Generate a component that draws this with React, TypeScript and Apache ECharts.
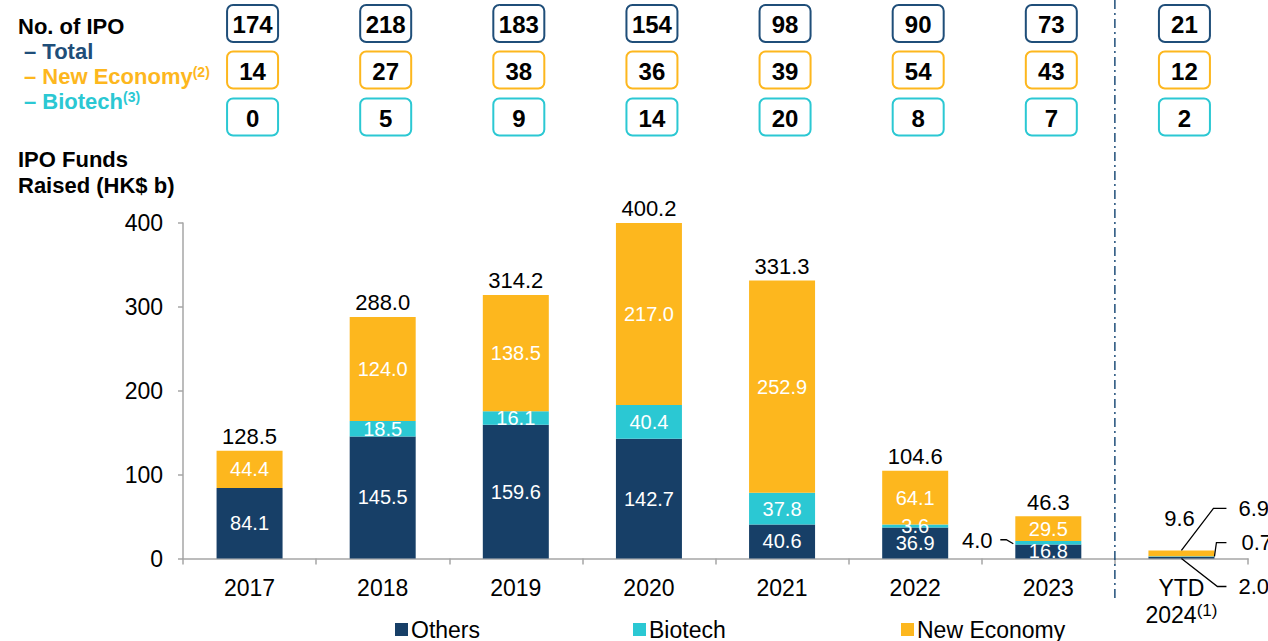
import React, { useEffect, useRef } from 'react';
import * as echarts from 'echarts';

const categories = ['2017', '2018', '2019', '2020', '2021', '2022', '2023', 'YTD 2024'];
const others = [84.1, 145.5, 159.6, 142.7, 40.6, 36.9, 16.8, 2.0];
const biotech = [0, 18.5, 16.1, 40.4, 37.8, 3.6, 4.0, 0.7];
const newEconomy = [44.4, 124.0, 138.5, 217.0, 252.9, 64.1, 29.5, 6.9];
const totalLabels = ['128.5', '288.0', '314.2', '400.2', '331.3', '104.6', '46.3', '9.6'];
const ipoTotal = [174, 218, 183, 154, 98, 90, 73, 21];
const ipoNewEconomy = [14, 27, 38, 36, 39, 54, 43, 12];
const ipoBiotech = [0, 5, 9, 14, 20, 8, 7, 2];
const yMin = 0;
const yMax = 400;
const yStep = 100;

const C_OTHERS = '#173F67';
const C_BIO = '#2BC8D3';
const C_NE = '#FDB71E';
const C_TOTAL = '#1F4E79';
const FONT = 'Arial, "Liberation Sans", Helvetica, sans-serif';
const AXIS_GRAY = '#A6A6A6';

const fmt = (v: number) => v.toFixed(1);

export default function App() {
  const ref = useRef<HTMLDivElement>(null);

  useEffect(() => {
    document.body.style.margin = '0';
    if (!ref.current) return;
    const chart = echarts.init(ref.current, null, { renderer: 'svg' });

    const innerLabel = {
      show: true,
      position: 'inside',
      color: '#fff',
      fontSize: 20,
      fontFamily: FONT,
      formatter: (p: any) => fmt(p.value),
    };

    const hide = (arr: number[], hidden: number[]) =>
      arr.map((v, i) => (hidden.includes(i) ? { value: v, label: { show: false } } : v));

    const rows = [
      { y: 23.5, data: ipoTotal, color: C_TOTAL },
      { y: 70, data: ipoNewEconomy, color: C_NE },
      { y: 117, data: ipoBiotech, color: C_BIO },
    ];

    const textEl = (text: string, x: number, y: number, extra: any = {}) => ({
      type: 'text',
      style: {
        text,
        x,
        y,
        fill: '#000',
        fontSize: 22,
        fontFamily: FONT,
        align: 'center',
        verticalAlign: 'middle',
        ...extra,
      },
    });

    const renderItem = (params: any, api: any) => {
      const i = api.value(0);
      const [cx, base] = api.coord([i, 0]);
      const band = api.size([1, 0])[0];
      const sum = others[i] + biotech[i] + newEconomy[i];
      const top = api.coord([i, sum])[1];
      const children: any[] = [];

      rows.forEach((r) => {
        children.push({
          type: 'rect',
          shape: { x: cx - 22.5, y: r.y - 18.5, width: 51, height: 37, r: 6 },
          style: { fill: '#fff', stroke: r.color, lineWidth: 2 },
        });
        children.push(
          textEl(String(r.data[i]), cx + 3, r.y + 1, { fontWeight: 'bold', fontSize: 24 })
        );
      });

      const lineStyle = { stroke: '#000', lineWidth: 1.3, fill: null };

      if (i === categories.length - 1) {
        const sx = cx - band / 2;
        children.push({
          type: 'line',
          shape: { x1: sx, y1: 0, x2: sx, y2: 602 },
          style: { stroke: C_TOTAL, lineWidth: 1.5, lineDash: [9, 4, 2, 4] },
        });
        children.push(textEl(totalLabels[i], cx - 2, top - 32));
        const yNE = top - 42;
        children.push({
          type: 'polyline',
          shape: { points: [[cx, top], [cx + 32, yNE], [cx + 45, yNE]] },
          style: lineStyle,
        });
        children.push(textEl(fmt(newEconomy[i]), cx + 57, yNE, { align: 'left' }));
        const yBio = api.coord([i, others[i] + biotech[i] / 2])[1];
        const yBioLbl = yBio - 14;
        children.push({
          type: 'polyline',
          shape: { points: [[cx + 33, yBio], [cx + 35, yBioLbl], [cx + 45, yBioLbl]] },
          style: lineStyle,
        });
        children.push(textEl(fmt(biotech[i]), cx + 60, yBioLbl, { align: 'left' }));
        const yOth = base + 28;
        children.push({
          type: 'polyline',
          shape: { points: [[cx, base], [cx + 36, yOth], [cx + 45, yOth]] },
          style: lineStyle,
        });
        children.push(textEl(fmt(others[i]), cx + 57, yOth, { align: 'left' }));
      } else {
        children.push(textEl(totalLabels[i], cx, top - 14));
      }

      if (i === 6) {
        const yB = api.coord([i, others[i] + biotech[i] / 2])[1];
        children.push(textEl(fmt(biotech[i]), cx - 71, yB - 2));
        children.push({
          type: 'polyline',
          shape: { points: [[cx - 48, yB - 3], [cx - 42, yB - 3], [cx - 35, yB + 1]] },
          style: lineStyle,
        });
      }

      return { type: 'group', children };
    };

    const legendBase = {
      top: 618,
      itemWidth: 13,
      itemHeight: 13,
      itemGap: 0,
      padding: 0,
      icon: 'rect',
      selectedMode: false,
      textStyle: { fontSize: 23, color: '#000', fontFamily: FONT, padding: [0, 0, 0, -2] },
    };

    const headFont = `bold 22px ${FONT}`;

    const option: any = {
      animation: false,
      textStyle: { fontFamily: FONT },
      grid: { left: 183, right: 20, top: 223, bottom: 82.5, containLabel: false },
      legend: [
        { ...legendBase, left: 395, data: ['Others'] },
        { ...legendBase, left: 633, data: ['Biotech'] },
        { ...legendBase, left: 901, data: ['New Economy'] },
      ],
      xAxis: {
        type: 'category',
        data: categories,
        axisLine: { lineStyle: { color: AXIS_GRAY, width: 1.5 } },
        axisTick: { show: true, length: 6, lineStyle: { color: AXIS_GRAY, width: 1.5 } },
        axisLabel: {
          interval: 0,
          color: '#000',
          fontSize: 23,
          fontFamily: FONT,
          margin: 16,
          lineHeight: 27,
          formatter: (v: string) => (v === 'YTD 2024' ? 'YTD\n2024{sup|(1)}' : v),
          rich: {
            sup: { fontSize: 17, verticalAlign: 'top', lineHeight: 27, padding: [0, 0, 8, 0], color: '#000' },
          },
        },
      },
      yAxis: {
        type: 'value',
        min: yMin,
        max: yMax,
        interval: yStep,
        axisLine: { show: true, lineStyle: { color: AXIS_GRAY, width: 1.5 } },
        axisTick: { show: true, length: 5, lineStyle: { color: AXIS_GRAY, width: 1.5 } },
        splitLine: { show: false },
        axisLabel: { color: '#000', fontSize: 23, fontFamily: FONT, margin: 20 },
      },
      graphic: [
        { type: 'text', left: 18, top: 15, style: { text: 'No. of IPO', fill: '#000', font: headFont } },
        { type: 'text', left: 24, top: 40, style: { text: '– Total', fill: C_TOTAL, font: headFont } },
        {
          type: 'text', left: 24, top: 65,
          style: {
            text: '{m|– New Economy}{s|(2)}',
            rich: {
              m: { fill: C_NE, fontSize: 22, fontWeight: 'bold', fontFamily: FONT, color: C_NE },
              s: { fill: C_NE, fontSize: 14, fontWeight: 'bold', fontFamily: FONT, color: C_NE, verticalAlign: 'top', padding: [0, 0, 8, 0] },
            },
          },
        },
        {
          type: 'text', left: 24, top: 90,
          style: {
            text: '{m|– Biotech}{s|(3)}',
            rich: {
              m: { fill: C_BIO, fontSize: 22, fontWeight: 'bold', fontFamily: FONT, color: C_BIO },
              s: { fill: C_BIO, fontSize: 14, fontWeight: 'bold', fontFamily: FONT, color: C_BIO, verticalAlign: 'top', padding: [0, 0, 8, 0] },
            },
          },
        },
        { type: 'text', left: 18, top: 148, style: { text: 'IPO Funds', fill: '#000', font: headFont } },
        { type: 'text', left: 18, top: 174, style: { text: 'Raised (HK$ b)', fill: '#000', font: headFont } },
      ],
      series: [
        {
          name: 'Others', type: 'bar', stack: 'funds', barWidth: 66,
          itemStyle: { color: C_OTHERS }, label: innerLabel,
          data: hide(others, [7]),
        },
        {
          name: 'Biotech', type: 'bar', stack: 'funds', barWidth: 66,
          itemStyle: { color: C_BIO }, label: innerLabel,
          data: hide(biotech, [0, 6, 7]),
        },
        {
          name: 'New Economy', type: 'bar', stack: 'funds', barWidth: 66,
          itemStyle: { color: C_NE }, label: innerLabel,
          data: hide(newEconomy, [7]),
        },
        {
          name: 'annotations', type: 'custom', clip: false, silent: true, z: 10,
          encode: { x: 0, y: 1 },
          data: categories.map((_, i) => [i, 0]),
          renderItem,
        },
      ],
    };

    chart.setOption(option);
    return () => chart.dispose();
  }, []);

  return <div ref={ref} style={{ width: 1268, height: 641 }} />;
}
